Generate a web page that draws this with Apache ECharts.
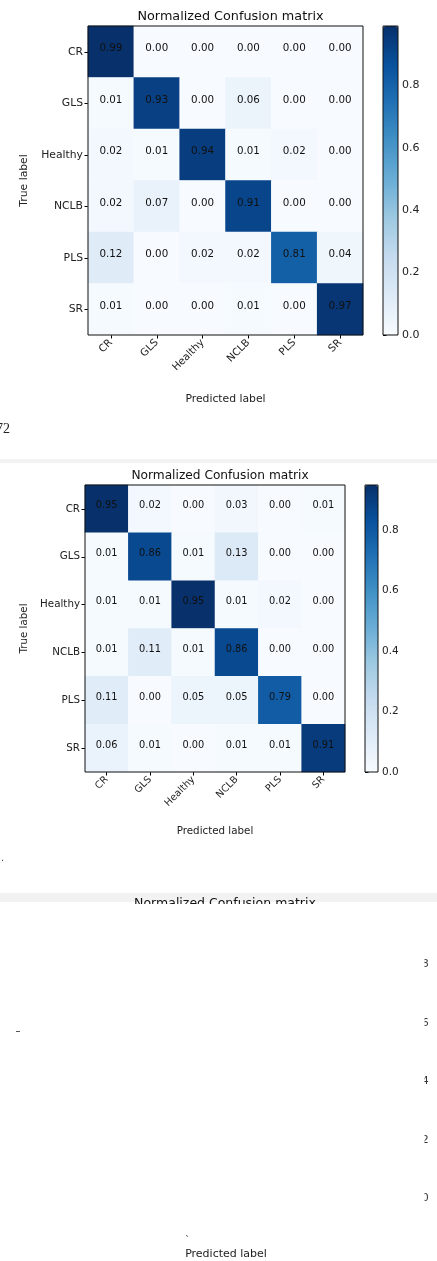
<!DOCTYPE html>
<html><head><meta charset="utf-8">
<script src="https://cdn.jsdelivr.net/npm/echarts@6/dist/echarts.min.js"></script>
<style>html,body{margin:0;padding:0;background:#fff}#c{width:437px;height:1261px}</style>
</head><body><div id="c"></div>
<script>
const categories = ['CR', 'GLS', 'Healthy', 'NCLB', 'PLS', 'SR'];
const matrixA = [
  [0.99, 0.00, 0.00, 0.00, 0.00, 0.00],
  [0.01, 0.93, 0.00, 0.06, 0.00, 0.00],
  [0.02, 0.01, 0.94, 0.01, 0.02, 0.00],
  [0.02, 0.07, 0.00, 0.91, 0.00, 0.00],
  [0.12, 0.00, 0.02, 0.02, 0.81, 0.04],
  [0.01, 0.00, 0.00, 0.01, 0.00, 0.97]
];
const matrixB = [
  [0.95, 0.02, 0.00, 0.03, 0.00, 0.01],
  [0.01, 0.86, 0.01, 0.13, 0.00, 0.00],
  [0.01, 0.01, 0.95, 0.01, 0.02, 0.00],
  [0.01, 0.11, 0.01, 0.86, 0.00, 0.00],
  [0.11, 0.00, 0.05, 0.05, 0.79, 0.00],
  [0.06, 0.01, 0.00, 0.01, 0.01, 0.91]
];
const colorbarTicks = [0, 0.2, 0.4, 0.6, 0.8];
const titleText = 'Normalized Confusion matrix';
const xName = 'Predicted label';
const yName = 'True label';

const blues = ['#f7fbff','#deebf7','#c6dbef','#9ecae1','#6baed6','#4292c6','#2171b5','#08519c','#08306b'];
const FONT = 'DejaVu Sans';

function toData(m){
  const d = [];
  m.forEach((row, i) => row.forEach((v, j) => d.push([j, i, v])));
  return d;
}
function maxOf(m){ return Math.max(...m.flat()); }

const panels = [
  {m: matrixA, grid: {left: 88, top: 26, width: 275, height: 309}, cb: {left: 383, top: 26, width: 15, height: 309}, fs: 10.3, tfs: 12.8, nameGapX: 59, nameGapY: 58, titleTop: 5},
  {m: matrixB, grid: {left: 85, top: 485, width: 260, height: 287}, cb: {left: 365, top: 485, width: 13, height: 287}, fs: 9.8, tfs: 12.2, nameGapX: 54, nameGapY: 56, titleTop: 465}
];

const grid = [], xAxis = [], yAxis = [], series = [], visualMap = [], title = [];
panels.forEach((p, k) => {
  const mx = maxOf(p.m);
  const gi = grid.length;
  grid.push(Object.assign({show: true, z: 5, backgroundColor: 'transparent', borderColor: '#111', borderWidth: 1}, p.grid));
  xAxis.push({type: 'category', gridIndex: gi, data: categories, position: 'bottom',
    name: xName, nameLocation: 'middle', nameGap: p.nameGapX,
    nameTextStyle: {fontFamily: FONT, fontSize: p.fs + 0.5, color: '#222'},
    axisLine: {show: false}, splitLine: {show: false},
    axisTick: {show: true, alignWithLabel: true, length: 3.5, lineStyle: {color: '#000'}},
    axisLabel: {rotate: 45, fontFamily: FONT, fontSize: p.fs, color: '#222', margin: 6}});
  yAxis.push({type: 'category', gridIndex: gi, data: categories, inverse: true,
    name: yName, nameLocation: 'middle', nameGap: p.nameGapY,
    nameTextStyle: {fontFamily: FONT, fontSize: p.fs + 0.5, color: '#222'},
    axisLine: {show: false}, splitLine: {show: false},
    axisTick: {show: true, alignWithLabel: true, length: 3.5, lineStyle: {color: '#000'}},
    axisLabel: {fontFamily: FONT, fontSize: p.fs + 0.5, color: '#222', margin: 5}});
  series.push({type: 'heatmap', xAxisIndex: gi, yAxisIndex: gi, data: toData(p.m),
    label: {show: true, fontFamily: FONT, fontSize: p.fs, color: '#111', offset: [0, -3],
      formatter: q => q.value[2].toFixed(2)},
    emphasis: {disabled: true}});
  visualMap.push({type: 'continuous', seriesIndex: series.length - 1, min: 0, max: mx,
    calculable: false, inRange: {color: blues}, left: p.cb.left, top: p.cb.top,
    itemWidth: p.cb.width, itemHeight: p.cb.height, padding: 0, text: null, hoverLink: false});
  const ci = grid.length;
  grid.push(Object.assign({show: true, z: 5, backgroundColor: 'transparent', borderColor: '#111', borderWidth: 1}, p.cb));
  xAxis.push({type: 'value', gridIndex: ci, show: false, min: 0, max: 1});
  yAxis.push({type: 'value', gridIndex: ci, position: 'right', min: 0, max: mx,
    axisLine: {show: false}, splitLine: {show: false},
    axisTick: {show: true, length: 3.5, lineStyle: {color: '#000'}, customValues: colorbarTicks},
    axisLabel: {fontFamily: FONT, fontSize: p.fs + 0.7, color: '#222', margin: 4,
      customValues: colorbarTicks, formatter: v => v.toFixed(1)}});
  series.push({type: 'scatter', xAxisIndex: ci, yAxisIndex: ci, data: [], silent: true});
  title.push({text: titleText, left: p.grid.left + p.grid.width / 2, textAlign: 'center',
    top: p.titleTop, textStyle: {fontFamily: FONT, fontSize: p.tfs, fontWeight: 'normal', color: '#111'}});
});

const graphic = [
  {type: 'text', x: -4, y: 422, style: {text: '72', font: '14px "Liberation Serif"', fill: '#222'}},
  {type: 'rect', x: 0, y: 459, shape: {width: 437, height: 4}, style: {fill: '#f3f3f3'}},
  {type: 'text', x: 1, y: 853, style: {text: '.', font: '10px "DejaVu Sans"', fill: '#444'}},
  {type: 'rect', x: 0, y: 893, shape: {width: 437, height: 9}, style: {fill: '#f2f2f2'}, z: 1},
  {type: 'text', x: 225, y: 897, style: {text: titleText, font: '12.5px "DejaVu Sans"', fill: '#111', textAlign: 'center', textVerticalAlign: 'top'}, z: 2},
  {type: 'rect', x: 0, y: 904, shape: {width: 437, height: 340}, style: {fill: '#fff'}, z: 3},
  {type: 'rect', x: 16, y: 1031, shape: {width: 4, height: 1}, style: {fill: '#555'}, z: 4},
  {type: 'text', x: 185, y: 1236, style: {text: '`', font: '10px "DejaVu Sans"', fill: '#555'}, z: 4},
  {type: 'text', x: 226, y: 1254, style: {text: xName, font: '11px "DejaVu Sans"', fill: '#222', textAlign: 'center', textVerticalAlign: 'middle'}, z: 4}
];
['8','6','4','2','0'].forEach((d, i) => {
  graphic.push({type: 'text', x: 422, y: 959 + i * 58.5, style: {text: d, font: '10.5px "DejaVu Sans"', fill: '#333'}, z: 4});
});
graphic.push({type: 'rect', x: 410, y: 950, shape: {width: 14.5, height: 270}, style: {fill: '#fff'}, z: 5});

const chart = echarts.init(document.getElementById('c'), null, {renderer: 'canvas'});
chart.setOption({animation: false, backgroundColor: '#fff', title, grid, xAxis, yAxis, visualMap, series, graphic});
</script></body></html>
